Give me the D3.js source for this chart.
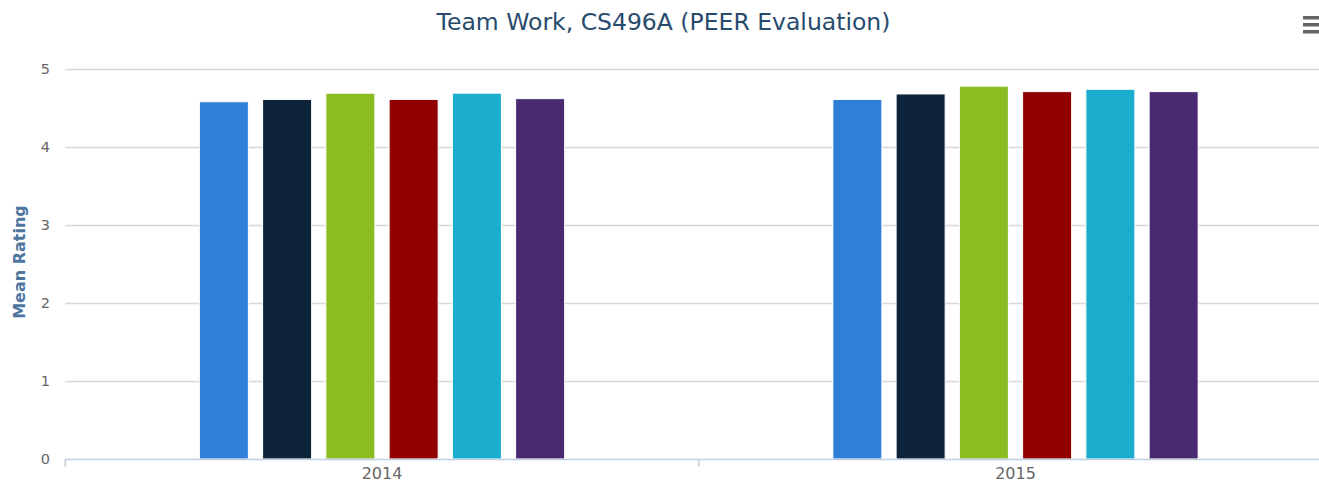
<!DOCTYPE html>
<html>
<head>
<meta charset="utf-8">
<script src="https://cdn.jsdelivr.net/npm/d3@7"></script>
<style>
  body { margin: 0; background: #fff; }
  svg { display: block; }
</style>
</head>
<body>
<div id="chart"></div>
<script>
// data
const years = ['2014', '2015'];
const seriesNames = ['Series 1', 'Series 2', 'Series 3', 'Series 4', 'Series 5', 'Series 6'];
const colors = ['#2f7ed8', '#0d233a', '#8bbc21', '#910000', '#1aadce', '#492970'];
const values2014 = [4.58, 4.61, 4.69, 4.61, 4.69, 4.62];
const values2015 = [4.61, 4.68, 4.78, 4.71, 4.74, 4.71];
const yTicks = [0, 1, 2, 3, 4, 5];

const width = 1319, height = 484;
const plotLeft = 65.25, plotTop = 69, plotBottom = 459;
const font = 'DejaVu Sans, sans-serif';

const svg = d3.select('#chart').append('svg')
  .attr('width', width)
  .attr('height', height);

// outer band per year, inner band per series
const x0 = d3.scaleBand().domain(years).range([plotLeft, plotLeft + 1267]);
const x1 = d3.scaleBand().domain(seriesNames).range([0, x0.bandwidth()])
  .paddingInner(0.225).paddingOuter(2.12);
const y = d3.scaleLinear().domain([0, 5]).range([plotBottom, plotTop]);

// grid lines
svg.append('g').selectAll('line')
  .data(yTicks.filter(d => d > 0))
  .join('line')
  .attr('x1', plotLeft).attr('x2', width)
  .attr('y1', d => Math.round(y(d)) + 0.5).attr('y2', d => Math.round(y(d)) + 0.5)
  .attr('stroke', '#d8d8d8').attr('stroke-width', 1.5);

// y axis labels
svg.append('g').selectAll('text')
  .data(yTicks)
  .join('text')
  .attr('x', 50).attr('y', d => y(d) + 5)
  .attr('text-anchor', 'end')
  .attr('font-family', font)
  .attr('font-size', 14.5)
  .attr('fill', '#666')
  .text(d => d);

svg.append('text')
  .attr('transform', `translate(25, ${(plotTop + plotBottom) / 2 - 2}) rotate(-90)`)
  .attr('text-anchor', 'middle')
  .attr('font-family', font)
  .attr('font-size', 16)
  .attr('font-weight', 'bold')
  .attr('fill', '#4d759e')
  .text('Mean Rating');

// bars
const rows = years.map((yr, i) => ({ year: yr, vals: i === 0 ? values2014 : values2015 }));
const groups = svg.append('g').selectAll('g')
  .data(rows)
  .join('g')
  .attr('transform', d => `translate(${x0(d.year)},0)`);

groups.selectAll('rect')
  .data(d => d.vals.map((v, i) => ({ name: seriesNames[i], v: v, c: colors[i] })))
  .join('rect')
  .attr('x', d => x1(d.name))
  .attr('width', x1.bandwidth())
  .attr('y', d => y(d.v))
  .attr('height', d => y(0) - y(d.v))
  .attr('fill', d => d.c)
  .attr('stroke', '#fff').attr('stroke-width', 1);

// x axis
const xAxis = d3.axisBottom(x0).tickSize(0).tickPadding(8);
const gx = svg.append('g').attr('transform', `translate(0,${plotBottom + 0.5})`).call(xAxis);
gx.select('.domain').remove();
gx.selectAll('text')
  .attr('font-family', font)
  .attr('font-size', 16)
  .attr('fill', '#666');
svg.append('line')
  .attr('x1', plotLeft).attr('x2', width)
  .attr('y1', plotBottom + 0.5).attr('y2', plotBottom + 0.5)
  .attr('stroke', '#c0d0e0').attr('stroke-width', 1.5);
svg.append('g').selectAll('line')
  .data([plotLeft, plotLeft + x0.step(), plotLeft + 2 * x0.step()])
  .join('line')
  .attr('x1', d => d).attr('x2', d => d)
  .attr('y1', plotBottom).attr('y2', plotBottom + 8)
  .attr('stroke', '#c0d0e0').attr('stroke-width', 1.5);

// title
svg.append('text')
  .attr('x', 663.5).attr('y', 29.5)
  .attr('text-anchor', 'middle')
  .attr('font-family', font)
  .attr('font-size', 23.5)
  .attr('fill', '#274b6d')
  .text('Team Work, CS496A (PEER Evaluation)');

// menu icon
svg.append('g').selectAll('rect')
  .data([0, 1, 2])
  .join('rect')
  .attr('x', 1303).attr('y', d => 16 + d * 7)
  .attr('width', 18).attr('height', 3.5)
  .attr('fill', '#666');
</script>
</body>
</html>
